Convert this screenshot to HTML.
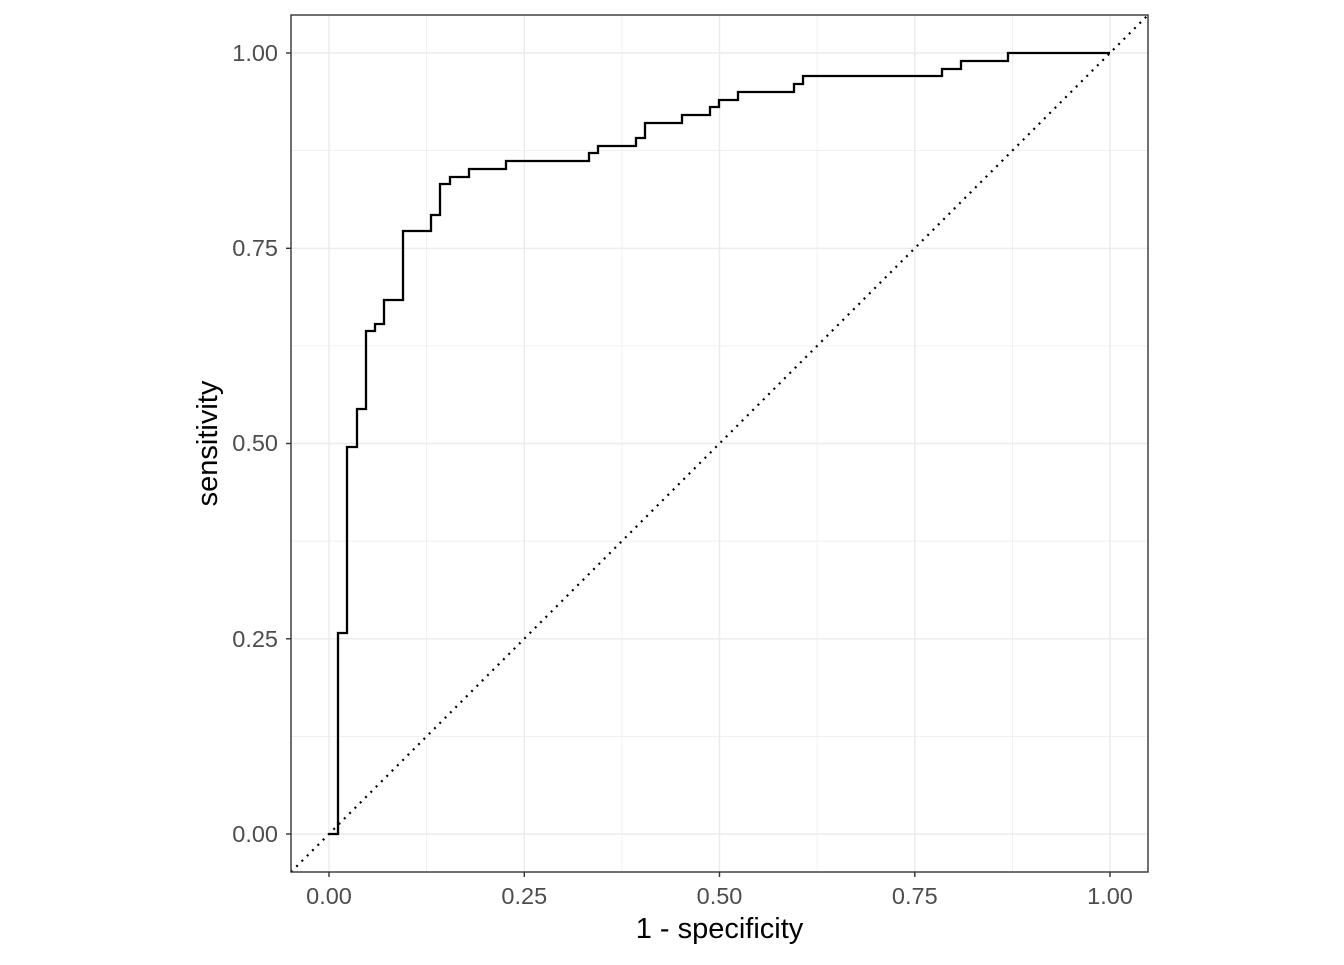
<!DOCTYPE html>
<html><head><style>body{margin:0;background:#fff}</style></head><body>
<svg width="1344" height="960" xmlns="http://www.w3.org/2000/svg" font-family="Liberation Sans, sans-serif">
<rect x="291" y="15" width="857" height="857" fill="#fff"/>
<g stroke="#ebebeb" stroke-width="0.7">
<line x1="291" x2="1148" y1="736.4" y2="736.4"/><line x1="291" x2="1148" y1="541.1" y2="541.1"/><line x1="291" x2="1148" y1="345.9" y2="345.9"/><line x1="291" x2="1148" y1="150.6" y2="150.6"/>
<line y1="15" y2="872" x1="426.6" x2="426.6"/><line y1="15" y2="872" x1="621.9" x2="621.9"/><line y1="15" y2="872" x1="817.1" x2="817.1"/><line y1="15" y2="872" x1="1012.4" x2="1012.4"/>
</g>
<g stroke="#ebebeb" stroke-width="1.4">
<line x1="291" x2="1148" y1="834" y2="834"/><line x1="291" x2="1148" y1="638.8" y2="638.8"/><line x1="291" x2="1148" y1="443.5" y2="443.5"/><line x1="291" x2="1148" y1="248.3" y2="248.3"/><line x1="291" x2="1148" y1="53" y2="53"/>
<line y1="15" y2="872" x1="329" x2="329"/><line y1="15" y2="872" x1="524.3" x2="524.3"/><line y1="15" y2="872" x1="719.5" x2="719.5"/><line y1="15" y2="872" x1="914.8" x2="914.8"/><line y1="15" y2="872" x1="1110" x2="1110"/>
</g>
<line x1="291" y1="872" x2="1148" y2="15" stroke="#000" stroke-width="2.2" stroke-dasharray="2,5.5"/>
<polyline fill="none" stroke="#000" stroke-width="2.3" points="329,834 338,834 338,633 347,633 347,447 357,447 357,409 366,409 366,331 375,331 375,324 384,324 384,300 403,300 403,231 431,231 431,215 440,215 440,184 450,184 450,177 469,177 469,169 506,169 506,161 589,161 589,153 598,153 598,146 636,146 636,138 645,138 645,123 682,123 682,115 710,115 710,107 719,107 719,100 738,100 738,92 794,92 794,84 803,84 803,76 942,76 942,69 961,69 961,61 1008,61 1008,53 1110,53"/>
<rect x="291" y="15" width="857" height="857" fill="none" stroke="#333" stroke-width="1.4"/>
<g stroke="#333" stroke-width="1.4">
<line x1="286" x2="291" y1="834" y2="834"/><line x1="286" x2="291" y1="638.8" y2="638.8"/><line x1="286" x2="291" y1="443.5" y2="443.5"/><line x1="286" x2="291" y1="248.3" y2="248.3"/><line x1="286" x2="291" y1="53" y2="53"/>
<line y1="872" y2="877" x1="329" x2="329"/><line y1="872" y2="877" x1="524.3" x2="524.3"/><line y1="872" y2="877" x1="719.5" x2="719.5"/><line y1="872" y2="877" x1="914.8" x2="914.8"/><line y1="872" y2="877" x1="1110" x2="1110"/>
</g>
<g fill="#4d4d4d" font-size="23.5" text-anchor="end">
<text x="278" y="842">0.00</text><text x="278" y="647">0.25</text><text x="278" y="451">0.50</text><text x="278" y="256">0.75</text><text x="278" y="61">1.00</text>
</g>
<g fill="#4d4d4d" font-size="23.5" text-anchor="middle">
<text x="329" y="904">0.00</text><text x="524.3" y="904">0.25</text><text x="719.5" y="904">0.50</text><text x="914.8" y="904">0.75</text><text x="1110" y="904">1.00</text>
</g>
<text x="719.5" y="938" font-size="29" text-anchor="middle">1 - specificity</text>
<text transform="translate(217,443.5) rotate(-90)" font-size="29" text-anchor="middle">sensitivity</text>
</svg>
</body></html>
